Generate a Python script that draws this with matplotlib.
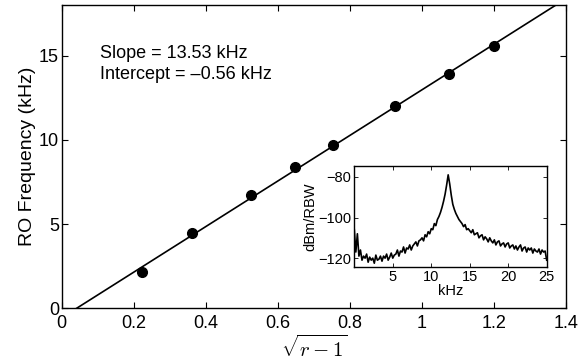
import numpy as np
import matplotlib
matplotlib.use("Agg")
import matplotlib.pyplot as plt

plt.rcParams['font.family'] = ['Liberation Sans', 'DejaVu Sans']
plt.rcParams['mathtext.fontset'] = 'cm'

# Main data
x_vals = [0.222, 0.361, 0.525, 0.648, 0.752, 0.926, 1.075, 1.199]
f_vals = [2.13, 4.45, 6.70, 8.36, 9.70, 11.99, 13.93, 15.59]
slope = 13.53
intercept = -0.56
fit_x = [0.0, 1.4]

xticks = [0, 0.2, 0.4, 0.6, 0.8, 1, 1.2, 1.4]
xticklabels = ['0', '0.2', '0.4', '0.6', '0.8', '1', '1.2', '1.4']
yticks = [0, 5, 10, 15]

# Inset spectrum (kHz step 0.2, dBm/RBW)
spec_f_start, spec_f_stop = 0.0, 25.0
spec_db = [
    -106, -117, -108, -119, -116, -121, -119, -120, -118, -122,
    -119.5, -121, -120, -122.5, -118.5, -121, -120.5, -119, -121.5, -119,
    -120, -118, -121, -119.5, -117.5, -120, -118.5, -118, -116, -119,
    -116.5, -117, -114.5, -117.5, -115, -115.5, -113.5, -116, -114, -113,
    -112, -114, -111.5, -111, -110, -111.5, -108.5, -109.5, -107, -108,
    -105.5, -106, -103, -104, -101, -99.5, -97.5, -95, -92, -88.5,
    -84, -79, -83.5, -89, -93.5, -96, -98, -99.5, -101, -102,
    -103, -104.5, -103.5, -106, -105.5, -106.5, -107.5, -106, -108.5, -108,
    -107.5, -110, -109, -108.5, -111, -109.5, -110.5, -112, -110, -111.5,
    -112.5, -111, -113.5, -112, -111.5, -114, -113, -112.5, -114.5, -113,
    -112.5, -115, -114, -113.5, -115.5, -114, -116, -114.5, -113.5, -116.5,
    -115, -114.5, -117, -115, -116, -115, -117.5, -115.5, -116.5, -117,
    -115.5, -118, -116, -117, -116.5, -121,
]
inset_xticks = [5, 10, 15, 20, 25]
inset_yticks = [-80, -100, -120]

fig = plt.figure(figsize=(5.86, 3.64), dpi=100)
ax = fig.add_axes([0.1053, 0.153, 0.8606, 0.833])

fx = np.array(fit_x)
ax.plot(fx, slope * fx + intercept, color='black', lw=1.2, zorder=2)
ax.plot(x_vals, f_vals, 'o', color='black', ms=7, zorder=3)

ax.set_xlim(0, 1.4)
ax.set_ylim(0, 18)
ax.set_xticks(xticks)
ax.set_xticklabels(xticklabels)
ax.set_yticks(yticks)
ax.tick_params(direction='in', top=True, right=True, length=4, width=0.8,
               labelsize=13)
ax.tick_params(axis='x', pad=5)
ax.tick_params(axis='y', pad=2)
for s in ax.spines.values():
    s.set_linewidth(1.0)

ax.set_ylabel('RO Frequency (kHz)', fontsize=14, labelpad=2)
ax.set_xlabel(r'$\sqrt{r-1}$', fontsize=15, labelpad=2)

ax.text(0.106, 15.1, 'Slope = 13.53 kHz', fontsize=13, va='center', ha='left')
ax.text(0.106, 13.9, 'Intercept = \u20130.56 kHz', fontsize=13, va='center', ha='left')

# Inset
ins = fig.add_axes([0.6046, 0.2657, 0.3283, 0.2791])
sf = np.linspace(spec_f_start, spec_f_stop, len(spec_db))
ins.plot(sf, spec_db, color='black', lw=1.2)
ins.set_xlim(0, 25)
ins.set_ylim(-124.5, -74.5)
ins.set_xticks(inset_xticks)
ins.set_yticks(inset_yticks)
ins.tick_params(direction='in', top=True, right=True, length=3, width=0.6,
                labelsize=10.5, pad=2)
for s in ins.spines.values():
    s.set_linewidth(1.0)
ins.set_xlabel('kHz', fontsize=10.5, labelpad=0)
ins.set_ylabel('dBm/RBW', fontsize=10.5, labelpad=1)

fig.savefig('out.png', dpi=100)
